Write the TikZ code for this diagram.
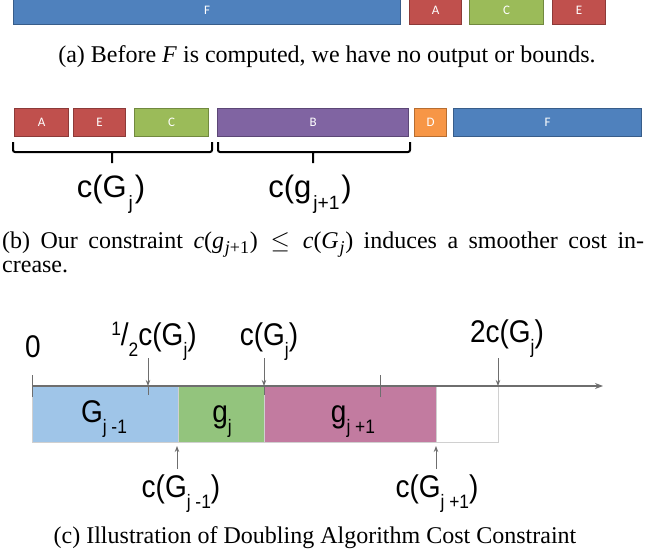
\documentclass[tikz,border=0pt]{standalone}
\usepackage{fontspec}
\setmainfont{Liberation Serif}
\newfontfamily\arialf{Liberation Sans}
\newfontfamily\calibf{Carlito}
\usetikzlibrary{arrows.meta}
\definecolor{ored}{HTML}{C0504D}\definecolor{oredd}{HTML}{8C3A38}
\definecolor{ogreen}{HTML}{9BBB59}\definecolor{ogreend}{HTML}{71893F}
\definecolor{oblue}{HTML}{4F81BD}\definecolor{oblued}{HTML}{385D8A}
\definecolor{opurple}{HTML}{8064A2}\definecolor{opurpled}{HTML}{5C4776}
\definecolor{oorange}{HTML}{F79646}\definecolor{oorganged}{HTML}{B66D31}
\definecolor{lblue}{HTML}{9FC5E8}\definecolor{lgreen}{HTML}{93C47D}\definecolor{lpink}{HTML}{C27BA0}
\definecolor{axgray}{HTML}{6E6E6E}\definecolor{bdgray}{HTML}{D0D0D0}
\newcommand\lo[1]{\raisebox{-0.38em}{\scalebox{0.62}{#1}}}
\newcommand\blo[1]{\kern0.06em\raisebox{-0.4em}{\scalebox{0.62}{#1}}\kern0.06em}
\newcommand\hi[1]{\raisebox{0.3em}{\scalebox{0.62}{#1}}}
\newcommand\mlo[1]{\kern0.03em\raisebox{-0.22em}{\scalebox{0.75}{#1}}\kern0.03em}
\newcommand\vstretch[1]{\scalebox{1}[1.12]{#1}}
\begin{document}
\begin{tikzpicture}[x=1pt,y=-1pt,
  bar/.style={line width=1.3pt, minimum height=28pt, inner sep=0pt, anchor=north west,
    text=white, font=\calibf\fontsize{13}{13}\selectfont},
  cbox/.style={draw=bdgray, line width=0.8pt, minimum height=56pt, inner sep=0pt, anchor=north west},
  captxt/.style={font=\fontsize{24}{24}\selectfont, inner sep=0pt},
  lblb/.style={font=\arialf\fontsize{31}{31}\selectfont, inner sep=0pt, anchor=base},
  lblc/.style={font=\arialf\fontsize{28}{28}\selectfont, inner sep=0pt, anchor=base},
  brace/.style={line width=2pt, rounded corners=2pt},
  axisline/.style={draw=axgray, line width=1.2pt, -{Stealth[length=8pt,width=6pt]}},
  tickline/.style={draw=axgray, line width=1pt},
  marker/.style={draw=axgray, line width=1pt, -{Stealth[length=6pt,width=4.5pt]}}
]
\useasboundingbox (0,0) rectangle (657,554);
\clip (0,0) rectangle (657,554);
% ---------- (a)
\node[bar, fill=oblue, draw=oblued, minimum width=387pt] (aF) at (13,-4) {F};
\node[bar, fill=ored, draw=oredd, minimum width=52pt] (aA) at (409,-4) {A};
\node[bar, fill=ogreen, draw=ogreend, minimum width=74pt] (aC) at (469,-4) {C};
\node[bar, fill=ored, draw=oredd, minimum width=53pt] (aE) at (552,-4) {E};
\node[captxt, anchor=base] (capa) at (327,63) {(a) Before \textit{F} is computed, we have no output or bounds.};
% ---------- (b)
\node[bar, fill=ored, draw=oredd, minimum width=54pt] (bA) at (14,108) {A};
\node[bar, fill=ored, draw=oredd, minimum width=52pt] (bE) at (73,108) {E};
\node[bar, fill=ogreen, draw=ogreend, minimum width=74pt] (bC) at (134,108) {C};
\node[bar, fill=opurple, draw=opurpled, minimum width=191pt] (bB) at (217,108) {B};
\node[bar, fill=oorange, draw=oorganged, minimum width=32pt] (bD) at (414,108) {D};
\node[bar, fill=oblue, draw=oblued, minimum width=188pt] (bF) at (453,108) {F};
\draw[brace] (13,142) -- (13,152) -- (212,152) -- (212,142) (112,152) -- (112,163);
\draw[brace] (218,142) -- (218,152) -- (410,152) -- (410,142) (313,152) -- (313,163);
\node[lblb] (lGj) at (111,197) {c(G\blo{j})};
\node[lblb] (lgj1) at (310,197) {c(g\blo{j+1})};
\node[captxt, anchor=base west] (capb1) at (2,248) {\makebox[642pt][s]{(b) Our constraint \textit{c}(\textit{g}\mlo{\textit{j}+1}) \kern0.1em$\leq$\kern0.1em{} \textit{c}(\textit{G}\mlo{\textit{j}}) induces a smoother cost in-}};
\node[captxt, anchor=base west] (capb2) at (2,272) {crease.};
% ---------- (c)
\node[cbox, fill=lblue, minimum width=146pt] (cG) at (32,386) {};
\node[cbox, fill=lgreen, minimum width=86pt] (cg) at (178,386) {};
\node[cbox, fill=lpink, minimum width=172pt] (cg1) at (264,386) {};
\node[cbox, fill=white, minimum width=62pt] (cw) at (436,386) {};
\coordinate (o) at (32,386);
\coordinate (axend) at (603,386);
\draw[axisline] (o) -- (axend);
\draw[tickline] (32,375) -- (32,397);
\draw[tickline] (380,375) -- (380,397);
\draw[tickline] (148,386) -- (148,395);
\draw[tickline] (264,386) -- (264,395);
\coordinate (h1) at (148,386); \coordinate (h1t) at (148,358);
\coordinate (h2) at (264,386); \coordinate (h2t) at (264,358);
\coordinate (h3) at (498,386); \coordinate (h3t) at (498,358);
\draw[marker] (h1t) -- (h1);
\draw[marker] (h2t) -- (h2);
\draw[marker] (h3t) -- (h3);
\coordinate (u1) at (177,446); \coordinate (u1t) at (177,469);
\coordinate (u2) at (436,446); \coordinate (u2t) at (436,469);
\draw[marker] (u1t) -- (u1);
\draw[marker] (u2t) -- (u2);
\node[lblc] (l0) at (33,357) {\vstretch{0}};
\node[lblc] (lhalf) at (154,345) {\vstretch{\hi{1}/\lo{2}c(G\lo{j})}};
\node[lblc] (lcGj) at (269,345) {\vstretch{c(G\lo{j})}};
\node[lblc] (l2cGj) at (507,342) {\vstretch{2c(G\lo{j})}};
\node[lblc] (tG) at (104,422) {\vstretch{G\lo{j -1}}};
\node[lblc] (tg) at (222,422) {\vstretch{g\lo{j}}};
\node[lblc] (tg1) at (353,422) {\vstretch{g\lo{j +1}}};
\node[lblc] (lcGm) at (181,497) {\vstretch{c(G\lo{j -1})}};
\node[lblc] (lcGp) at (437,497) {\vstretch{c(G\lo{j +1})}};
\node[captxt, anchor=base] (capc) at (315,543) {(c) Illustration of Doubling Algorithm Cost Constraint};
\end{tikzpicture}
\end{document}
